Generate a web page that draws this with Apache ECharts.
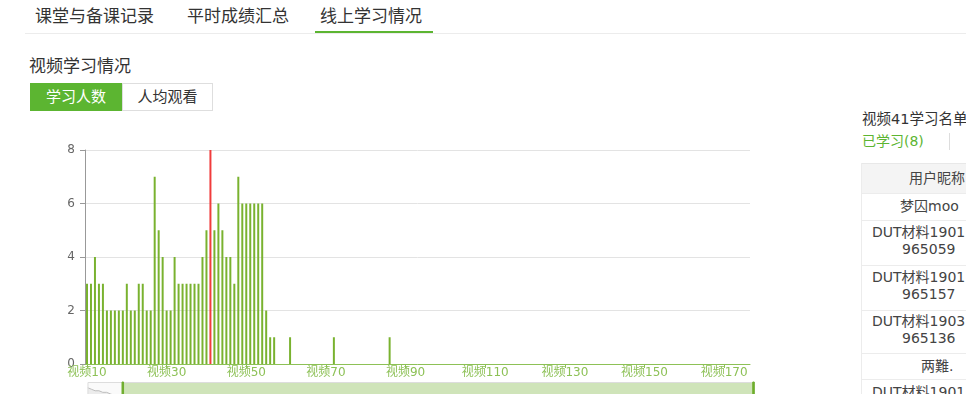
<!DOCTYPE html>
<html lang="zh-CN">
<head>
<meta charset="utf-8">
<title>视频学习情况</title>
<script src="https://cdn.jsdelivr.net/npm/echarts@6/dist/echarts.min.js"></script>
<style>
html,body{margin:0;padding:0;background:#fff;}
body{width:966px;height:394px;overflow:hidden;position:relative;font-family:"DejaVu Sans","Noto Sans CJK SC",sans-serif;color:#333;}
.abs{position:absolute;white-space:nowrap;}
.tab{font-size:17px;line-height:20px;top:6px;color:#333;}
.line{font-size:14px;line-height:17px;color:#444;}
.hr{position:absolute;background:#ececec;}
#chart{position:absolute;left:0;top:0;width:966px;height:394px;z-index:2;}
</style>
</head>
<body>
<!-- top tabs -->
<div class="abs tab" style="left:35px;">课堂与备课记录</div>
<div class="abs tab" style="left:187px;">平时成绩汇总</div>
<div class="abs tab" style="left:320px;">线上学习情况</div>
<div class="hr" style="left:25px;right:0;top:33px;height:1px;"></div>
<div class="abs" style="left:315px;top:31px;width:118px;height:2px;background:#5cb531;"></div>

<div class="abs" style="left:29px;top:56px;font-size:17px;line-height:20px;">视频学习情况</div>
<div class="abs" style="left:30px;top:83px;width:92px;height:28px;background:#5cb531;color:#fff;font-size:15px;line-height:28px;text-align:center;">学习人数</div>
<div class="abs" style="left:122px;top:83px;width:89px;height:26px;border:1px solid #dedede;color:#333;font-size:15px;line-height:26px;text-align:center;">人均观看</div>

<!-- right panel -->
<div class="abs line" style="left:862px;top:111px;font-size:14.5px;color:#333;">视频41学习名单</div>
<div class="abs line" style="left:862px;top:133px;color:#5cb531;">已学习(8)</div>
<div class="hr" style="left:949px;top:133px;width:1px;height:17px;background:#ddd;"></div>

<div class="abs" style="left:861px;top:163px;width:200px;height:30px;background:#f4f4f4;border-top:1px solid #e8e8e8;"></div>
<div class="hr" style="left:861px;top:163px;width:1px;height:240px;"></div>
<div class="hr" style="left:861px;top:193px;width:200px;height:1px;"></div>
<div class="hr" style="left:861px;top:220px;width:200px;height:1px;"></div>
<div class="hr" style="left:861px;top:265px;width:200px;height:1px;"></div>
<div class="hr" style="left:861px;top:310px;width:200px;height:1px;"></div>
<div class="hr" style="left:861px;top:353px;width:200px;height:1px;"></div>
<div class="hr" style="left:861px;top:379px;width:200px;height:1px;"></div>

<div class="abs line" style="left:909px;top:170px;">用户昵称</div>
<div class="abs line" style="left:900px;top:198px;">梦囚moo</div>
<div class="abs line" style="left:872px;top:224px;">DUT材料1901</div>
<div class="abs line" style="left:902px;top:241px;">965059</div>
<div class="abs line" style="left:872px;top:269px;">DUT材料1901</div>
<div class="abs line" style="left:902px;top:286px;">965157</div>
<div class="abs line" style="left:872px;top:313px;">DUT材料1903</div>
<div class="abs line" style="left:902px;top:330px;">965136</div>
<div class="abs line" style="left:921px;top:358px;">两難.</div>
<div class="abs line" style="left:872px;top:384px;">DUT材料1901</div>

<div id="chart"></div>

<script>
// ---- data ----
const videoCount = 176;
const categories = Array.from({length: videoCount}, (_, i) => '视频' + (i + 1));
// learners per video, 视频1 .. 视频176 (视频1-9 estimated from the zoom slider shadow)
const learnerCounts = [
  12, 11, 10, 10, 9, 9, 8, 7, 6, 3,      // 视频1-10
  3, 4, 3, 3, 2, 2, 2, 2, 2, 3,          // 视频11-20
  2, 2, 3, 3, 2, 2, 7, 5, 4, 2,          // 视频21-30
  2, 4, 3, 3, 3, 3, 3, 3, 4, 5,          // 视频31-40
  8, 5, 6, 5, 4, 4, 3, 7, 6, 6,          // 视频41-50
  6, 6, 6, 6, 2, 1, 1, 0, 0, 0,          // 视频51-60
  1, 0, 0, 0, 0, 0, 0, 0, 0, 0,          // 视频61-70
  0, 1, 0, 0, 0, 0, 0, 0, 0, 0,          // 视频71-80
  0, 0, 0, 0, 0, 1, 0, 0, 0, 0,          // 视频81-90
  0, 0, 0, 0, 0, 0, 0, 0, 0, 0,          // 视频91-100
  0, 0, 0, 0, 0, 0, 0, 0, 0, 0,          // 视频101-110
  0, 0, 0, 0, 0, 0, 0, 0, 0, 0,          // 视频111-120
  0, 0, 0, 0, 0, 0, 0, 0, 0, 0,          // 视频121-130
  0, 0, 0, 0, 0, 0, 0, 0, 0, 0,          // 视频131-140
  0, 0, 0, 0, 0, 0, 0, 0, 0, 0,          // 视频141-150
  0, 0, 0, 0, 0, 0, 0, 0, 0, 0,          // 视频151-160
  0, 0, 0, 0, 0, 0, 0, 0, 0, 0,          // 视频161-170
  0, 0, 0, 0, 0, 0                       // 视频171-176
];
const selectedVideo = '视频41';
const firstShownVideo = '视频10';
const labelStep = 20;
const yMin = 0, yMax = 8, yStep = 2;

// ---- chart ----
const chart = echarts.init(document.getElementById('chart'), null, {renderer: 'canvas'});
const startIdx = categories.indexOf(firstShownVideo);
const showLabel = (idx) => (idx - startIdx) % labelStep === 0 && idx >= startIdx;
const FONT = 'DejaVu Sans, Noto Sans CJK SC, sans-serif';
const GREEN_AXIS = '#8dc156';

const option = {
  animation: false,
  textStyle: {fontFamily: FONT},
  grid: {left: 85, right: 216, top: 150, bottom: 30, containLabel: false, outerBoundsMode: 'none'},
  xAxis: {
    type: 'category',
    data: categories,
    boundaryGap: true,
    axisLine: {show: true, lineStyle: {color: GREEN_AXIS, width: 1}},
    axisTick: {show: true, alignWithLabel: true, length: 4, interval: showLabel, lineStyle: {color: GREEN_AXIS}},
    axisLabel: {interval: showLabel, color: GREEN_AXIS, fontSize: 12, margin: 3, fontFamily: FONT},
    splitLine: {show: false}
  },
  yAxis: {
    type: 'value',
    min: yMin, max: yMax, interval: yStep,
    axisLine: {show: true, lineStyle: {color: '#999'}},
    axisTick: {show: true, length: 5, lineStyle: {color: '#999'}},
    axisLabel: {color: '#666', fontSize: 12, margin: 10, fontFamily: FONT},
    splitLine: {show: true, lineStyle: {color: '#e3e3e3'}}
  },
  dataZoom: [{
    type: 'slider',
    xAxisIndex: 0,
    startValue: startIdx,
    endValue: categories.length - 1,
    left: 85, right: 214, top: 382, height: 30,
    showDetail: false,
    brushSelect: false,
    moveHandleSize: 0,
    backgroundColor: '#fafafa',
    borderColor: '#dddddd',
    fillerColor: 'rgb(207,228,185)',
    dataBackground: {lineStyle: {color: '#bdbdbd', width: 1}, areaStyle: {color: '#ececec', opacity: 1}},
    selectedDataBackground: {lineStyle: {color: '#bdbdbd', width: 1}, areaStyle: {color: '#ececec', opacity: 1}},
    handleIcon: 'path://M-0.5,0 L0.5,0 L0.5,20 L-0.5,20 Z M-3,3.5 L3,3.5 L3,8.5 L-3,8.5 Z',
    handleSize: '100%',
    handleStyle: {color: '#6fae2e', borderColor: '#6fae2e'}
  }],
  series: [{
    type: 'bar',
    data: learnerCounts.map((v, i) => categories[i] === selectedVideo
      ? {value: v, itemStyle: {color: '#f03c3c'}}
      : v),
    barWidth: '50%',
    itemStyle: {color: '#79b22f'}
  }]
};
chart.setOption(option);
</script>
</body>
</html>
